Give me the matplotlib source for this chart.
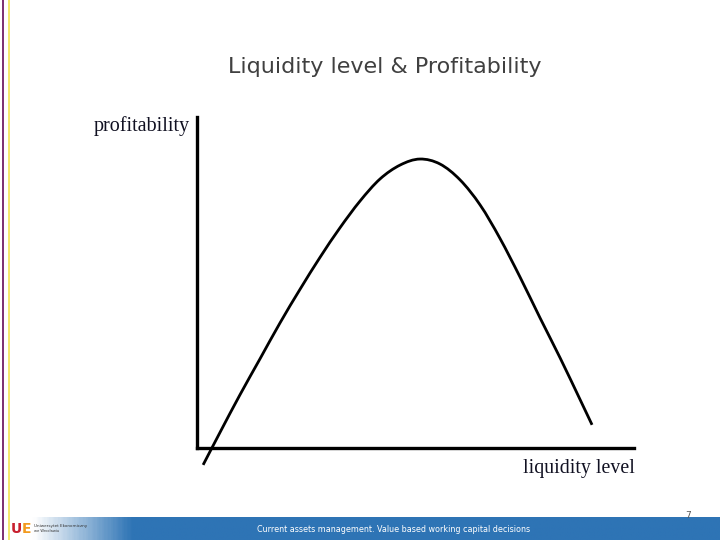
import numpy as np
import matplotlib.pyplot as plt
from matplotlib.colors import LinearSegmentedColormap
from matplotlib.path import Path
from matplotlib.patches import PathPatch

# curve (liquidity level, profitability), arbitrary units
liquidity = [0.14, 0.53, 0.98, 1.44, 1.90, 2.36, 2.82, 3.27, 3.73, 4.19, 4.65,
             5.10, 5.56, 6.02, 6.48, 6.93, 7.39, 7.85, 8.31, 8.76, 9.04]
profitability = [-0.51, 0.48, 1.60, 2.69, 3.78, 4.80, 5.77, 6.65, 7.46, 8.13, 8.55,
                 8.73, 8.58, 8.10, 7.34, 6.34, 5.17, 3.93, 2.72, 1.48, 0.70]

title = 'Liquidity level & Profitability'
x_label = 'liquidity level'
y_label = 'profitability'
footer = 'Current assets management. Value based working capital decisions'
page_no = '7'

W, H = 720, 540
fig = plt.figure(figsize=(7.2, 5.4), dpi=100)
fig.patch.set_facecolor('white')

# slide border lines on the left
fig.add_artist(plt.Line2D([2.5 / W, 2.5 / W], [0, 1], color='#7b2f6f', lw=1.4))
fig.add_artist(plt.Line2D([8.5 / W, 8.5 / W], [0, 1], color='#f3e86a', lw=1.4))

# footer bar with gradient
bar = fig.add_axes([10 / W, 0, 1 - 10 / W, 23 / H])
cmap = LinearSegmentedColormap.from_list('ft', [(0, '#ffffff'), (0.03, '#ffffff'),
                                                (0.17, '#2e74b5'), (1, '#2e74b5')])
bar.imshow(np.linspace(0, 1, 400).reshape(1, -1), aspect='auto', cmap=cmap,
           extent=[0, 1, 0, 1])
bar.set_axis_off()
fig.text(394 / W, 1 - 529 / H, footer, color='white', fontsize=5.8,
         ha='center', va='center')
fig.text(688 / W, 1 - 515 / H, page_no, color='#555555', fontsize=6.5,
         ha='center', va='center')

# logo
fig.text(11 / W, 1 - 529 / H, 'U', color='#c8202f', fontsize=10, fontweight='bold',
         ha='left', va='center')
fig.text(22 / W, 1 - 529 / H, 'E', color='#f29a1f', fontsize=10, fontweight='bold',
         ha='left', va='center')
fig.text(34 / W, 1 - 526 / H, 'Uniwersytet Ekonomiczny', color='#333333',
         fontsize=3.0, ha='left', va='center')
fig.text(34 / W, 1 - 531 / H, 'we Wrocławiu', color='#333333',
         fontsize=2.6, ha='left', va='center')

fig.text(385 / W, 1 - 67 / H, title, color='#404040', fontsize=16,
         ha='center', va='center', family='DejaVu Sans')

# the diagram
ax = fig.add_axes([197 / W, 1 - 448 / H, 437 / W, 331 / H])
ax.set_xlim(0, 10)
ax.set_ylim(0, 10)

# smooth curve through the read points (Catmull-Rom as cubic Bezier)
pts = np.column_stack([liquidity, profitability])
verts = [pts[0]]
codes = [Path.MOVETO]
for i in range(len(pts) - 1):
    p0 = pts[max(i - 1, 0)]
    p1 = pts[i]
    p2 = pts[i + 1]
    p3 = pts[min(i + 2, len(pts) - 1)]
    verts += [p1 + (p2 - p0) / 6, p2 - (p3 - p1) / 6, p2]
    codes += [Path.CURVE4] * 3
ax.add_patch(PathPatch(Path(verts, codes), facecolor='none', edgecolor='black',
                       lw=2.0, clip_on=False, capstyle='butt'))

for s in ['top', 'right']:
    ax.spines[s].set_visible(False)
for s in ['left', 'bottom']:
    ax.spines[s].set_linewidth(2.4)
    ax.spines[s].set_color('black')
ax.set_xticks([])
ax.set_yticks([])
ax.patch.set_alpha(0)

fig.text(142 / W, 1 - 126 / H, y_label, family='Liberation Serif', fontsize=14.5,
         ha='center', va='center', color='#111122')
fig.text(579 / W, 1 - 468 / H, x_label, family='Liberation Serif', fontsize=14.3,
         ha='center', va='center', color='#111122')

fig.savefig('out.png', dpi=100)
